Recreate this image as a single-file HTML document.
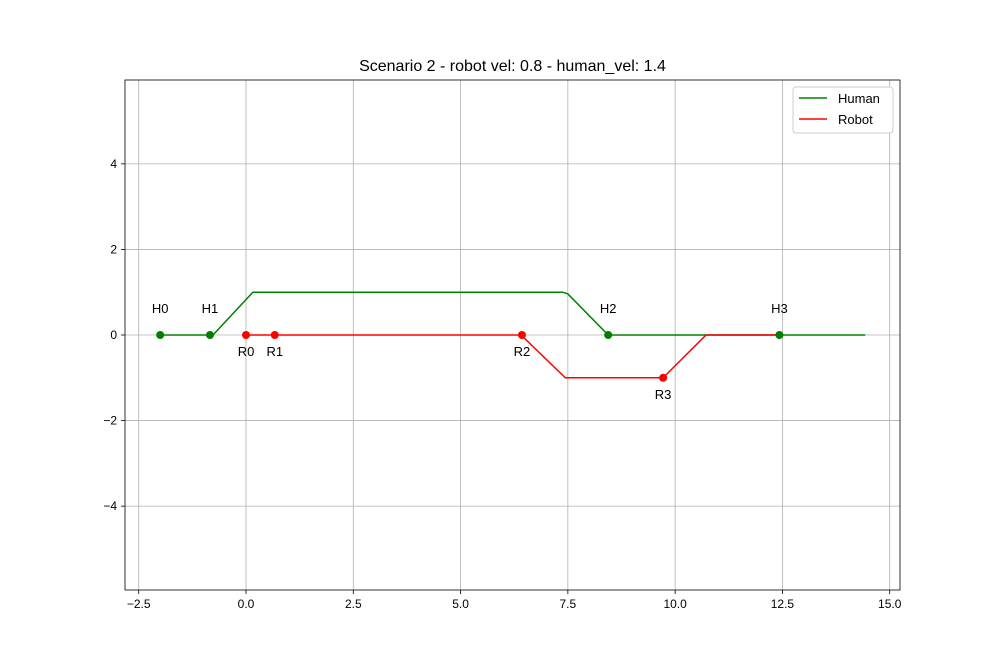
<!DOCTYPE html>
<html><head><meta charset="utf-8"><style>
body{margin:0;background:#fff;}
svg{display:block;font-family:"Liberation Sans","DejaVu Sans",sans-serif;}
</style></head><body>
<svg id="chart" width="1000" height="663"></svg>
<script>
const xTicks=[-2.5,0,2.5,5,7.5,10,12.5,15];
const xTickLabels=["\u22122.5","0.0","2.5","5.0","7.5","10.0","12.5","15.0"];
const yTicks=[-4,-2,0,2,4];
const yTickLabels=["\u22124","\u22122","0","2","4"];
const humanX=[-2,-0.77,0.16,7.38,7.5,8.44,14.43];
const humanY=[0,0,1,1,0.96,0,0];
const robotX=[0,6.41,7.44,9.72,10.72,12.43];
const robotY=[0,0,-1,-1,0,0];
const humanPtX=[-2,-0.84,8.44,12.43];
const humanPtY=[0,0,0,0];
const humanPtLabels=["H0","H1","H2","H3"];
const robotPtX=[0,0.67,6.43,9.72];
const robotPtY=[0,0,0,-1];
const robotPtLabels=["R0","R1","R2","R3"];

const L=125,R=900,T=80,B=590;
const xMin=-2.82,xMax=15.24,yMin=-5.96,yMax=5.96;
const sx=v=>L+(v-xMin)/(xMax-xMin)*(R-L);
const sy=v=>B-(v-yMin)/(yMax-yMin)*(B-T);
const svg=document.getElementById('chart');
const NS='http://www.w3.org/2000/svg';
function mk(tag,attrs,parent){const e=document.createElementNS(NS,tag);for(const k in attrs)e.setAttribute(k,attrs[k]);(parent||svg).appendChild(e);return e;}

let g=mk('g',{});


xTicks.forEach((t,i)=>{
  const x=sx(t);
  mk('line',{x1:x,x2:x,y1:T,y2:B,stroke:'#b0b0b0','stroke-width':0.8},g);
  mk('line',{x1:x,x2:x,y1:B,y2:B+4,stroke:'#000','stroke-width':0.8});
  const tx=mk('text',{x:x,y:B+18,'text-anchor':'middle','font-size':12});
  tx.textContent=xTickLabels[i];
  
  
});
yTicks.forEach((t,i)=>{
  const y=sy(t);
  mk('line',{x1:L,x2:R,y1:y,y2:y,stroke:'#b0b0b0','stroke-width':0.8},g);
  mk('line',{x1:L-4,x2:L,y1:y,y2:y,stroke:'#000','stroke-width':0.8});
  const tx=mk('text',{x:L-8,y:y+4,'text-anchor':'end','font-size':12});
  tx.textContent=yTickLabels[i];
  
  
});
const pts=(xs,ys)=>xs.map((v,i)=>sx(v)+','+sy(ys[i])).join(' ');
let hl=mk('polyline',{points:pts(humanX,humanY),fill:'none',stroke:'green','stroke-width':1.5});


let rl=mk('polyline',{points:pts(robotX,robotY),fill:'none',stroke:'red','stroke-width':1.5});


humanPtX.forEach((v,i)=>{
  const c=mk('circle',{cx:sx(v),cy:sy(humanPtY[i]),r:4,fill:'green'});
  
  
  const t=mk('text',{x:sx(v),y:sy(humanPtY[i])-22,'text-anchor':'middle','font-size':13});
  t.textContent=humanPtLabels[i];
  
  
});
robotPtX.forEach((v,i)=>{
  const c=mk('circle',{cx:sx(v),cy:sy(robotPtY[i]),r:4,fill:'red'});
  
  
  const t=mk('text',{x:sx(v),y:sy(robotPtY[i])+21,'text-anchor':'middle','font-size':13});
  t.textContent=robotPtLabels[i];
  
  
});
let fr=mk('rect',{x:L,y:T,width:R-L,height:B-T,fill:'none',stroke:'#000','stroke-width':0.8});


let ti=mk('text',{x:(L+R)/2,y:71,'text-anchor':'middle','font-size':16});
ti.textContent='Scenario 2 - robot vel: 0.8 - human_vel: 1.4';


let lg=mk('g',{});


mk('rect',{x:793,y:87,width:100,height:46,rx:3,fill:'#fff',stroke:'#ccc','stroke-width':1},lg);
[['Human','green',98],['Robot','red',119]].forEach(([n,c,y])=>{
  mk('line',{x1:799,x2:827,y1:y,y2:y,stroke:c,'stroke-width':1.5},lg);
  const t=mk('text',{x:838,y:y+5,'font-size':13},lg);
  t.textContent=n;
  
  
});
</script>
</body></html>
